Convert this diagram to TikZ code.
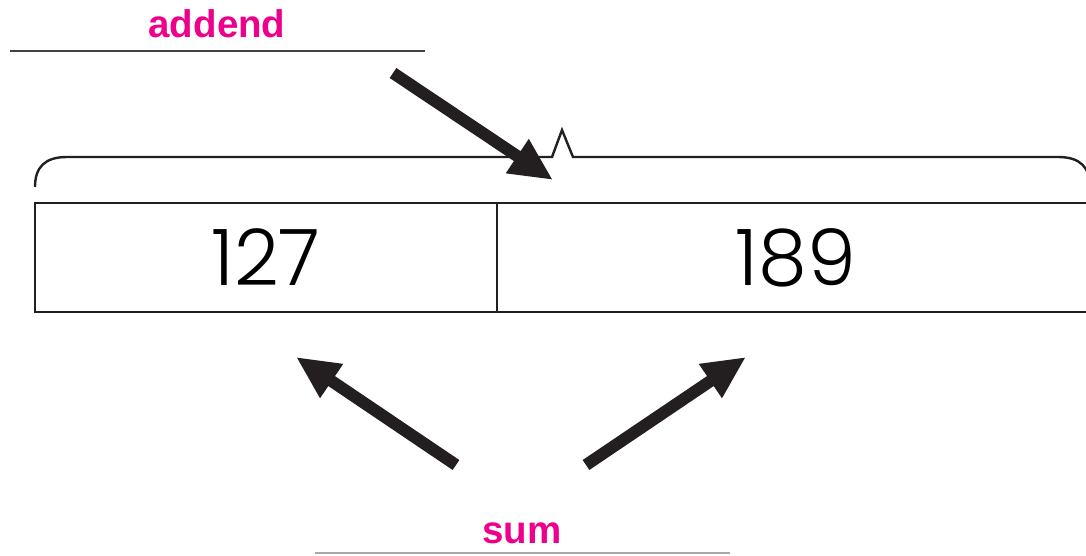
\documentclass[tikz,border=0pt]{standalone}
\usepackage{fontspec}
\setmainfont{Liberation Sans}
\newfontfamily\numfont{Poppins Light}
\usetikzlibrary{arrows.meta}
\definecolor{ink}{HTML}{231F20}
\definecolor{mag}{HTML}{EC008C}
\definecolor{rule}{HTML}{A8A8A8}
\tikzset{
  bigarrow/.style={draw=ink, line width=12pt, -{Triangle[length=43pt,width=38pt]}},
  labeltext/.style={text=mag, font=\bfseries\fontsize{38.5}{38.5}\selectfont, inner sep=0pt},
  numbox/.style={draw=ink, line width=2.6pt, minimum height=109pt, inner sep=0pt, font=\numfont\fontsize{78}{78}\selectfont},
}
\begin{document}
\begin{tikzpicture}[x=1pt,y=-1pt]
\useasboundingbox (0,0) rectangle (1086,555);
% labels and rules
\node[labeltext, anchor=base] (addend) at (217,37) {addend};
\draw[draw=ink!85, line width=1.8pt] (10,51) -- (425,51);
\node[labeltext, anchor=base] (sum) at (522,543) {sum};
\draw[draw=rule, line width=1.5pt] (315,553) -- (730,553);
% brace
\draw[draw=ink, line width=2.4pt, line join=miter]
  (35,187) .. controls (35,167) and (45,157) .. (67,157) -- (552,157) -- (562,130) -- (573,157) -- (1058,157)
  .. controls (1080,157) and (1090,167) .. (1090,187);
% boxes
\node[numbox, minimum width=462pt] (left) at (266,257.5) {127};
\node[numbox, minimum width=598pt] (right) at (796,257.5) {189};
% arrows
\coordinate (a1) at (393,73);
\coordinate (a2) at (553,180);
\coordinate (l1) at (456,465);
\coordinate (l2) at (296,357);
\coordinate (r1) at (586,465);
\coordinate (r2) at (746,357);
\draw[bigarrow] (a1) -- (a2);
\draw[bigarrow] (l1) -- (l2);
\draw[bigarrow] (r1) -- (r2);
\end{tikzpicture}
\end{document}
